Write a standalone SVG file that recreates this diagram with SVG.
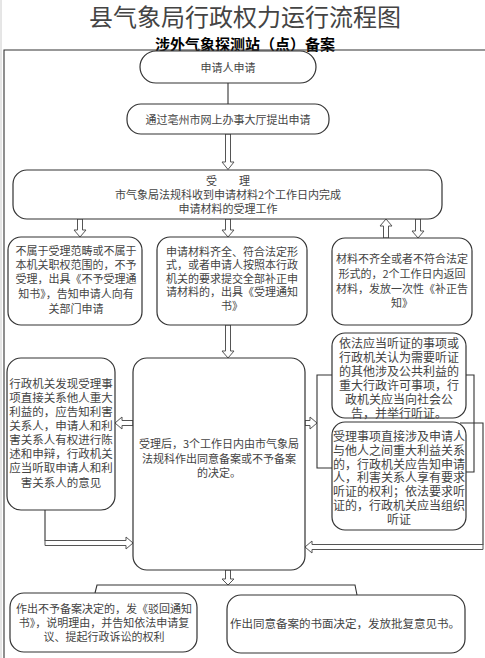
<svg xmlns="http://www.w3.org/2000/svg" width="485" height="658" viewBox="0 0 485 658">
<style>
text{font-family:"Noto Sans CJK SC","Noto Sans",sans-serif;fill:#444;text-anchor:middle;dominant-baseline:central}
.t{font-size:11px}
.m{font-size:11.5px}
.b{font-size:12px}
.box{fill:#fff;stroke:#333;stroke-width:1.2}
.ln{fill:none;stroke:#333;stroke-width:1.1}
.ha{fill:#fff;stroke:#555;stroke-width:1}
</style>
<rect x="0" y="0" width="485" height="658" fill="#fff"/>
<line x1="1" y1="0" x2="1" y2="658" stroke="#ccc" stroke-width="1"/>
<g id="title">
<text x="245" y="15" style="font-size:24px;fill:#444">县气象局行政权力运行流程图</text>
<text x="245" y="43" style="font-size:15px;font-weight:bold;fill:#000">涉外气象探测站（点）备案</text>
</g>
<path class="ln" d="M4 658 V50 H485"/>
<g id="connectors">
<line class="ln" x1="228" y1="83" x2="228" y2="104"/>
<path class="ha" d="M225.5 134 V162 H222 L228 169.5 L234 162 H230.5 V134 Z"/>
<path class="ha" d="M77.5 219 V230 H74 L80 237 L86 230 H82.5 V219 Z"/>
<path class="ha" d="M225.5 219 V230 H222 L228 237 L234 230 H230.5 V219 Z"/>
<path class="ha" d="M383.5 238 V226 H380 L386 219 L392 226 H388.5 V238 Z"/>
<path class="ha" d="M415.5 219 V231 H412 L418 238 L424 231 H420.5 V219 Z"/>
<path class="ha" d="M225.5 325 V351 H222 L228 358 L234 351 H230.5 V325 Z"/>
<path class="ha" d="M133 420.5 H122 V417 L115 423 L122 429 V425.5 H133 Z"/>
<line class="ln" x1="45" y1="510" x2="45" y2="541"/>
<path class="ha" d="M45 540.5 H126 V537 L133 543 L126 549 V545.5 H45 Z"/>
<path class="ha" d="M305 420.5 H310 V417 L317 423 L310 429 V425.5 H305 Z"/>
<path class="ln" d="M332 375 H317 V468 H332"/>
<path class="ln" d="M466 375 H474 V472 H466"/>
<path class="ln" d="M460 423 H483 V545"/>
<path class="ha" d="M483 544.5 H312 V541 L305 547 L312 553 V549.5 H483 Z"/>
<path class="ha" d="M225.5 570 V579 H222 L228 585 L234 579 H230.5 V570 Z"/>
<path class="ln" d="M95 593 L97 585 H355 L357 595"/>
</g>
<g id="n1"><rect class="box" x="140" y="51" width="176" height="32" rx="16"/><text class="t" x="228" y="67">申请人申请</text></g>
<g id="n2"><rect class="box" x="127" y="104" width="202" height="30" rx="14"/><text class="t" x="228" y="119">通过亳州市网上办事大厅提出申请</text></g>
<g id="n3"><rect class="box" x="13" y="170" width="429" height="49" rx="14"/>
<text class="t" x="228" y="180">受　　理</text>
<text class="t" x="228" y="194">市气象局法规科收到申请材料2个工作日内完成</text>
<text class="t" x="228" y="208">申请材料的受理工作</text></g>
<g id="n4a"><rect class="box" x="8" y="237" width="134" height="88" rx="13"/>
<text class="t" x="76" y="250">不属于受理范畴或不属于</text>
<text class="t" x="76" y="264">本机关职权范围的，不予</text>
<text class="t" x="76" y="278">受理，出具《不予受理通</text>
<text class="t" x="76" y="293">知书》，告知申请人向有</text>
<text class="t" x="76" y="308">关部门申请</text></g>
<g id="n4b"><rect class="box" x="157" y="237" width="150" height="88" rx="13"/>
<text class="t" x="232" y="251">申请材料齐全、符合法定形</text>
<text class="t" x="232" y="264">式，或者申请人按照本行政</text>
<text class="t" x="232" y="278">机关的要求提交全部补正申</text>
<text class="t" x="232" y="291">请材料的，出具《受理通知</text>
<text class="t" x="232" y="305">书》</text></g>
<g id="n4c"><rect class="box" x="332" y="238" width="140" height="87" rx="13"/>
<text class="t" x="402" y="258">材料不齐全或者不符合法定</text>
<text class="t" x="402" y="273">形式的，2个工作日内返回</text>
<text class="t" x="402" y="288">材料，发放一次性《补正告</text>
<text class="t" x="402" y="302">知》</text></g>
<g id="n5"><rect class="box" x="133" y="358" width="172" height="212" rx="14"/>
<text class="t" x="219" y="443">受理后，3个工作日内由市气象局</text>
<text class="t" x="219" y="458">法规科作出同意备案或不予备案</text>
<text class="t" x="219" y="472">的决定。</text></g>
<g id="n6"><rect class="box" x="7" y="358" width="108" height="152" rx="14"/>
<text class="m" x="61" y="383">行政机关发现受理事</text>
<text class="m" x="61" y="397">项直接关系他人重大</text>
<text class="m" x="61" y="411">利益的，应告知利害</text>
<text class="m" x="61" y="425">关系人，申请人和利</text>
<text class="m" x="61" y="439">害关系人有权进行陈</text>
<text class="m" x="61" y="453">述和申辩，行政机关</text>
<text class="m" x="61" y="467">应当听取申请人和利</text>
<text class="m" x="61" y="482">害关系人的意见</text></g>
<g id="n7"><rect class="box" x="332" y="333" width="134" height="85" rx="13"/>
<text class="b" x="399" y="342">依法应当听证的事项或</text>
<text class="b" x="399" y="356">行政机关认为需要听证</text>
<text class="b" x="399" y="370">的其他涉及公共利益的</text>
<text class="b" x="399" y="384">重大行政许可事项，行</text>
<text class="b" x="399" y="398">政机关应当向社会公</text>
<text class="b" x="399" y="412">告，并举行听证。</text></g>
<g id="n8"><rect class="box" x="332" y="422" width="134" height="108" rx="13"/>
<text class="b" x="399" y="435">受理事项直接涉及申请人</text>
<text class="b" x="399" y="449">与他人之间重大利益关系</text>
<text class="b" x="399" y="463">的，行政机关应告知申请</text>
<text class="b" x="399" y="476">人，利害关系人享有要求</text>
<text class="b" x="399" y="490">听证的权利；依法要求听</text>
<text class="b" x="399" y="504">证的，行政机关应当组织</text>
<text class="b" x="399" y="518">听证</text></g>
<g id="n9"><rect class="box" x="10" y="593" width="187" height="59" rx="14"/>
<text class="t" x="104" y="608">作出不予备案决定的，发《驳回通知</text>
<text class="t" x="104" y="622">书》，说明理由，并告知依法申请复</text>
<text class="t" x="104" y="636">议、提起行政诉讼的权利</text></g>
<g id="n10"><rect class="box" x="227" y="595" width="238" height="58" rx="14"/>
<text class="m" x="345" y="623">作出同意备案的书面决定，发放批复意见书。</text></g>
</svg>
